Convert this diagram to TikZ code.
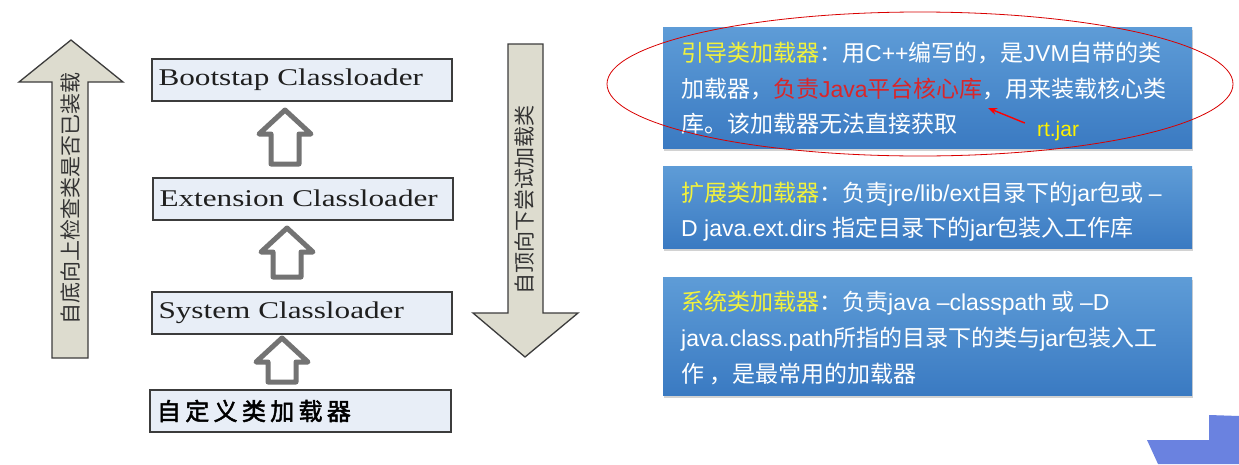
\documentclass[tikz,border=0pt]{standalone}
\usepackage{fontspec}
\setmainfont{Liberation Sans}
\newfontfamily\cjk{Noto Sans CJK SC}
\newfontfamily\cjkbold[FakeBold=2,LetterSpace=18]{Noto Sans CJK SC}
\newfontfamily\latn{Liberation Sans}
\newfontfamily\tnr[FakeStretch=1.3]{Liberation Serif}
\usetikzlibrary{shadows,arrows.meta}
\definecolor{labely}{HTML}{F2F23C}
\definecolor{redtxt}{HTML}{D9262A}
\definecolor{boxtop}{HTML}{5E9CD7}
\definecolor{boxbot}{HTML}{3A7AC2}
\definecolor{lfill}{HTML}{E8EEF7}
\definecolor{lborder}{HTML}{3C3C3C}
\definecolor{afill}{HTML}{DDDCCF}
\definecolor{agray}{HTML}{737373}
\definecolor{cornerblue}{HTML}{6A82E0}
\newcommand\la[1]{{\latn #1}}
\newcommand{\hollowup}[3]{\draw[garrow] (#1,#2) -- ++(26,24) -- ++(-12,0) -- (#1+14,#3) -- (#1-14,#3) -- (#1-14,#2+24) -- ++(-12,0) -- cycle;}
\tikzset{
  lbox/.style={draw=lborder, line width=2pt, fill=lfill, minimum width=300pt, minimum height=42pt,
    text width=287pt, align=left, inner xsep=6pt, text=black!88},
  serifbox/.style={lbox, font=\tnr\fontsize{24}{28}\selectfont},
  garrow/.style={draw=agray, line width=5pt, line join=round, fill=white},
  bigarr/.style={draw=lborder, line width=1.3pt, fill=afill, line join=miter},
  vtext/.style={rotate=90, inner sep=0pt, text=black!80, font=\cjk\fontsize{21}{24}\selectfont},
  bluebox/.style={anchor=north west, top color=boxtop, bottom color=boxbot, draw=none,
    drop shadow={opacity=0.35, shadow xshift=1pt, shadow yshift=-3pt}},
  ctext/.style={anchor=base west, inner sep=0pt, text=white, font=\cjk\fontsize{23}{28}\selectfont}
}
\begin{document}
\begin{tikzpicture}[x=1pt,y=-1pt]
\useasboundingbox (0,0) rectangle (1239,464);
\fill[white] (0,0) rectangle (1239,464);

% big arrows
\draw[bigarr] (52,358) -- (52,82) -- (19,82) -- (71,40) -- (123,82) -- (88,82) -- (88,358) -- cycle;
\node[vtext] (uptext) at (70,198) {自底向上检查类是否已装载};
\draw[bigarr] (508,44) -- (543,44) -- (543,313) -- (578,313) -- (525,357) -- (473,313) -- (508,313) -- cycle;
\node[vtext] (downtext) at (525,200) {自顶向下尝试加载类};

% class loader boxes
\node[serifbox] (boot) at (302,80) {Bootstap Classloader};
\node[serifbox] (ext) at (303,198.5) {Extension Classloader};
\node[serifbox] (sys) at (302,313) {System Classloader};
\node[lbox, font=\cjkbold\fontsize{24}{28}\selectfont, text=black, inner xsep=7pt] (cust) at (300.5,411) {自定义类加载器};

% hollow arrows
\hollowup{285}{110}{164}
\hollowup{287}{228}{277}
\hollowup{282}{338}{382}

% blue boxes
\node[bluebox, minimum width=529pt, minimum height=121pt] (box1) at (663,27) {};
\node[bluebox, minimum width=529pt, minimum height=82pt] (box2) at (663,166) {};
\node[bluebox, minimum width=529pt, minimum height=118pt] (box3) at (663,277) {};

\node[ctext] (b1a) at (681,61) {\textcolor{labely}{引导类加载器}：用\la{C++}编写的，是\la{JVM}自带的类};
\node[ctext] (b1b) at (681,97) {加载器，\textcolor{redtxt}{负责\la{Java}平台核心库}，用来装载核心类};
\node[ctext] (b1c) at (681,132) {库。该加载器无法直接获取};

\node[ctext] (b2a) at (681,201) {\textcolor{labely}{扩展类加载器}：负责\la{jre/lib/ext}目录下的\la{jar}包或 \la{–}};
\node[ctext] (b2b) at (681,236) {\la{D java.ext.dirs} 指定目录下的\la{jar}包装入工作库};

\node[ctext] (b3a) at (681,310) {\textcolor{labely}{系统类加载器}：负责\la{java –classpath} 或 \la{–D}};
\node[ctext] (b3b) at (681,346) {\la{java.class.path}所指的目录下的类与\la{jar}包装入工};
\node[ctext] (b3c) at (681,382) {作 ，是最常用的加载器};

% red ellipse and annotation
\draw[red!85!black, line width=0.8pt] (920,84) ellipse [x radius=313, y radius=72];
\node[inner sep=0pt, text=yellow, font=\latn\fontsize{21}{23}\selectfont] (rtjar) at (1058,131) {rt.jar};
\coordinate (kutip) at (988,108);
\draw[red, line width=1.4pt, -{Stealth[length=9pt,width=7pt]}] ([xshift=-12pt,yshift=-2pt]rtjar.north west) -- (kutip);

% corner decoration
\fill[cornerblue] (1209,415) -- (1239,416) -- (1239,464) -- (1158,464) -- (1147,440) -- (1209,440) -- cycle;
\end{tikzpicture}
\end{document}
